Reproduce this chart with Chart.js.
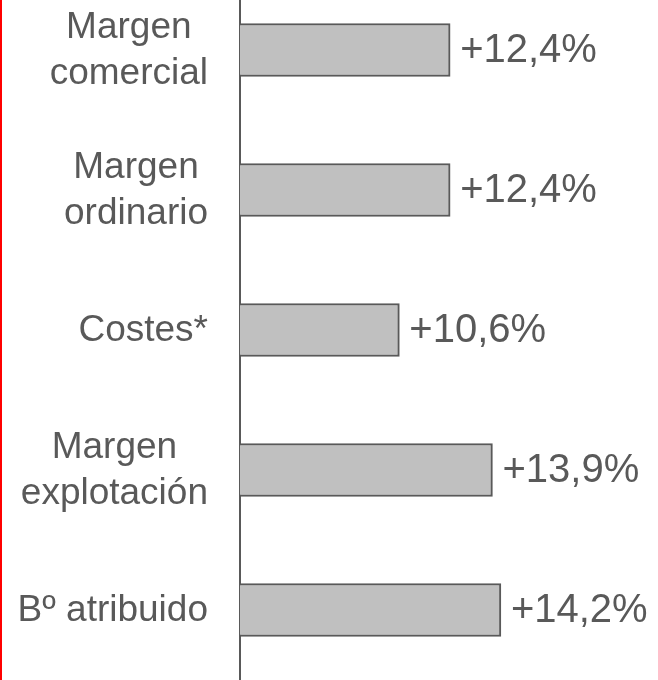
<!DOCTYPE html>
<html>
<head>
<meta charset="utf-8">
<script src="https://cdn.jsdelivr.net/npm/chart.js@4.4.0/dist/chart.umd.min.js"></script>
<style>
    body { margin: 0; background: #fff; overflow: hidden; }
    #wrap { position: relative; width: 658px; height: 680px; overflow: hidden; border-left: 2px solid #ff0000; box-sizing: border-box; }
    #barChart { position: absolute; left: -2px; top: -20px; }
</style>
</head>
<body>
<div id="wrap">
    <canvas id="barChart" width="658" height="700"></canvas>
</div>
<script>
// datos del grafico
const categorias = [["Margen", "comercial"], ["Margen", "ordinario"], "Costes*", ["Margen", "explotación"], "Bº atribuido"];
const variacion = [12.4, 12.4, 10.6, 13.9, 14.2];
const etiquetas = ["+12,4%", "+12,4%", "+10,6%", "+13,9%", "+14,2%"];

const gris = "#595959";
const fuente = "'Liberation Sans', Arial, sans-serif";

// escribe el porcentaje al final de cada barra
const etiquetasBarras = {
    id: "etiquetasBarras",
    afterDatasetsDraw(chart) {
        const ctx = chart.ctx;
        const meta = chart.getDatasetMeta(0);
        ctx.save();
        ctx.font = "40px " + fuente;
        ctx.fillStyle = gris;
        ctx.textAlign = "left";
        ctx.textBaseline = "middle";
        meta.data.forEach((bar, i) => {
            ctx.fillText(etiquetas[i], bar.x + 10, bar.y + 1);
        });
        ctx.restore();
    }
};

// nombres de categoria: bloque alineado a la derecha, lineas centradas
const etiquetasEje = {
    id: "etiquetasEje",
    afterDraw(chart) {
        const ctx = chart.ctx;
        const escala = chart.scales.y;
        const derecha = escala.right - 32;
        const alto = 46;
        ctx.save();
        ctx.font = "37px " + fuente;
        ctx.fillStyle = gris;
        ctx.textAlign = "center";
        ctx.textBaseline = "middle";
        chart.data.labels.forEach((lab, i) => {
            const lineas = Array.isArray(lab) ? lab : [lab];
            const ancho = Math.max(...lineas.map(l => ctx.measureText(l).width));
            const cx = derecha - ancho / 2;
            const yc = escala.getPixelForTick(i) + 1;
            lineas.forEach((l, j) => {
                ctx.fillText(l, cx, yc + (j - (lineas.length - 1) / 2) * alto);
            });
        });
        ctx.restore();
    }
};

const ctx = document.getElementById("barChart").getContext("2d");
const myBarChart = new Chart(ctx, {
    type: "bar",
    data: {
        labels: categorias,
        datasets: [
            {
                data: variacion,
                backgroundColor: "#c0c0c0",
                borderColor: gris,
                borderWidth: 2,
                borderSkipped: false,
                barThickness: 53
            }
        ]
    },
    options: {
        indexAxis: "y",
        responsive: false,
        animation: false,
        layout: { padding: 0 },
        plugins: {
            legend: { display: false },
            tooltip: { enabled: false }
        },
        scales: {
            x: {
                display: false,
                min: 4.95, // el eje arranca en el origen de las barras
                max: 19.77
            },
            y: {
                afterFit: (scale) => {
                    scale.width = 240;
                    // sin margen extra arriba/abajo, el eje ocupa todo el alto
                    scale.paddingTop = 0;
                    scale.paddingBottom = 0;
                },
                grid: { display: false, drawTicks: false },
                border: { display: true, color: gris, width: 2 },
                ticks: { display: false }
            }
        }
    },
    plugins: [etiquetasBarras, etiquetasEje]
});
</script>
</body>
</html>
